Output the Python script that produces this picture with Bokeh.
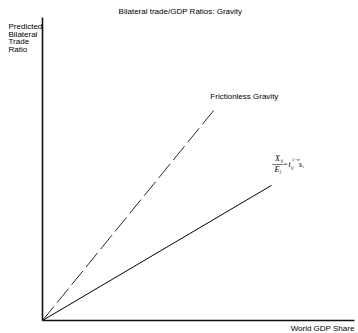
from bokeh.plotting import figure
from bokeh.models import Range1d, FixedTicker, Label, LinearAxis
from bokeh.embed import file_html
from bokeh.resources import INLINE

# ---- data (unitless shares, axis range 0..1) ----
gdp_share = [0.0, 0.554]          # frictionless gravity line x
frictionless_ratio = [0.0, 0.70]  # frictionless gravity line y
gdp_share2 = [0.0, 0.734]         # with trade costs x
friction_ratio = [0.0, 0.446]     # with trade costs y

title_text = "Bilateral trade/GDP Ratios: Gravity"
y_label_lines = ["Predicted", "Bilateral", "Trade", "Ratio"]
x_label_text = "World GDP Share"
line_label = "Frictionless Gravity"

FONT = "Liberation Sans"
SERIF = "Liberation Serif"

p = figure(width=358, height=333, output_backend="svg", toolbar_location=None,
           x_range=Range1d(-0.1346, 1.0128), y_range=Range1d(-0.0429, 1.0561),
           x_axis_type=None, y_axis_type=None,
           min_border=0)
p.outline_line_color = None
p.grid.visible = False
p.background_fill_color = "white"
p.border_fill_color = "white"

for loc in ("left", "below"):
    ax = LinearAxis(fixed_location=0, bounds=(0, 1))
    ax.ticker = FixedTicker(ticks=[])
    ax.major_tick_in = 0
    ax.major_tick_out = 0
    ax.minor_tick_in = 0
    ax.minor_tick_out = 0
    ax.major_label_text_font_size = "0px"
    ax.axis_line_color = "#111111"
    ax.axis_line_width = 1.6
    p.add_layout(ax, loc)

p.line(gdp_share, frictionless_ratio, line_color="#111111", line_width=0.9,
       line_dash="18 5")
p.line(gdp_share2, friction_ratio, line_color="black", line_width=1)

def lab(text, x, y, dx=0, dy=0, size="8px", align="left", font=FONT,
        style="normal", baseline="middle"):
    p.add_layout(Label(x=x, y=y, x_offset=dx, y_offset=dy, text=text,
                       text_font=font, text_font_size=size,
                       text_font_style=style, text_align=align,
                       text_baseline=baseline, text_color="black"))

# title
lab(title_text, 0.442, 1.020, align="center")
# y-axis label lines
for i, t in enumerate(y_label_lines):
    lab(t, -0.109, 0.970, dy=-7.5 * i)
# x-axis label
lab(x_label_text, 1.0, -0.026, align="right")
# frictionless label
lab(line_label, 0.538, 0.739)

# formula X_ij / E_j = t_ij^(1-sigma) s_i
fx, fy = 0.737, 0.518
lab("X", fx, fy, dx=2.5, dy=5.5, size="8px", font=SERIF, style="italic")
lab("ij", fx, fy, dx=8, dy=3, size="4.5px", font=SERIF, style="italic")
lab("\u2014", fx, fy, dx=-0.5, dy=0.5, size="11px", font=SERIF)
lab("E", fx, fy, dx=2, dy=-5.5, size="8px", font=SERIF, style="italic")
lab("j", fx, fy, dx=7.5, dy=-7.5, size="4.5px", font=SERIF, style="italic")
lab("=", fx, fy, dx=11, dy=0, size="7px", font=SERIF)
lab("t", fx, fy, dx=16, dy=-1, size="8px", font=SERIF, style="italic")
lab("ij", fx, fy, dx=18.5, dy=-3.5, size="4.5px", font=SERIF, style="italic")
lab("1\u2212\u03c3", fx, fy, dx=19.5, dy=4, size="4.5px", font=SERIF, style="italic")
lab("s", fx, fy, dx=26.5, dy=-1, size="8px", font=SERIF, style="italic")
lab("i", fx, fy, dx=30, dy=-3, size="4.5px", font=SERIF, style="italic")

open("out.html", "w").write(file_html(p, INLINE))
